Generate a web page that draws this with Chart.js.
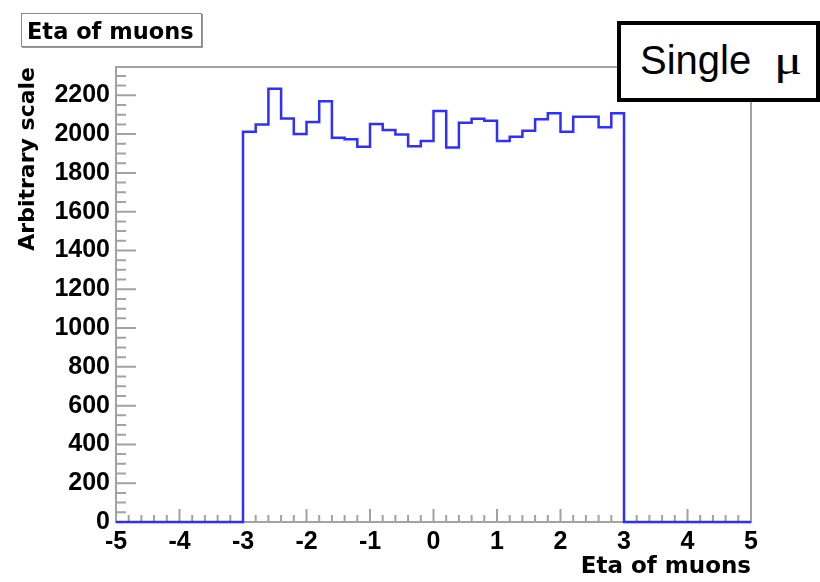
<!DOCTYPE html>
<html>
<head>
<meta charset="utf-8">
<script src="https://cdn.jsdelivr.net/npm/chart.js@4.4.1/dist/chart.umd.min.js"></script>
<style>
  body { margin: 0; background: #fff; }
  #wrap { position: relative; width: 820px; height: 582px; }
  #histTitle {
    position: absolute; left: 21px; top: 13px; width: 181px; height: 34px;
    box-sizing: border-box; border: 1px solid #8a8a8a; box-shadow: 1px 1px 0 #9a9a9a;
    background: #fff; font: bold 22.5px "DejaVu Sans", sans-serif; line-height: 31px;
    padding-left: 5px; white-space: nowrap;
  }
  #histTitle span { position: relative; top: 2px; }
  #tag {
    position: absolute; left: 617px; top: 21px; width: 203px; height: 81px;
    box-sizing: border-box; border: 4px solid #000; background: #fff;
  }
  #tagText {
    position: absolute; left: 640px; top: 40px; white-space: nowrap;
    font: 40px "Liberation Sans", Arial, sans-serif; line-height: 40px; color: #000;
  }
  #tagText span {
    display: inline-block; font-family: "Liberation Serif", serif; font-size: 42px;
    margin-left: 23px; transform: scaleX(1.25); transform-origin: left bottom;
  }
</style>
</head>
<body>
<div id="wrap">
  <canvas id="etaChart" width="820" height="582"></canvas>
  <div id="histTitle"><span>Eta of muons</span></div>
  <div id="tag"></div>
  <div id="tagText">Single<span>μ</span></div>
</div>
<script>
// bins of 0.2 in eta, only -3..3 filled
const binLowEdges = [-3.0, -2.8, -2.6, -2.4, -2.2, -2.0, -1.8, -1.6, -1.4, -1.2,
                     -1.0, -0.8, -0.6, -0.4, -0.2, 0.0, 0.2, 0.4, 0.6, 0.8,
                     1.0, 1.2, 1.4, 1.6, 1.8, 2.0, 2.2, 2.4, 2.6, 2.8];
const binCounts = [2012, 2050, 2234, 2081, 2000, 2063, 2170, 1981, 1973, 1935,
                   2052, 2021, 1998, 1938, 1964, 2119, 1931, 2058, 2079, 2069,
                   1965, 1986, 2017, 2077, 2107, 2012, 2089, 2089, 2035, 2107];
const fillEnd = 3.0;
const xRange = [-5, 5];
const yRange = [0, 2346];
const yTickStep = 200;
const xTickStep = 1;

const points = [{x: xRange[0], y: 0}];
binLowEdges.forEach((e, i) => points.push({x: e, y: binCounts[i]}));
points.push({x: fillEnd, y: 0});
points.push({x: xRange[1], y: 0});

const labelFont = {family: 'Liberation Sans', size: 25, weight: 'bold'};
const titleFont = {family: 'DejaVu Sans', size: 22, weight: 'bold'};
const frameColor = '#a2a2a2';

// ROOT style frame with ticks on the inside
const rootFrame = {
  id: 'rootFrame',
  beforeDatasetsDraw(chart) {
    const {ctx, chartArea: a, scales: {x, y}} = chart;
    ctx.save();
    ctx.strokeStyle = frameColor;
    ctx.lineWidth = 2;
    ctx.strokeRect(a.left, a.top, a.right - a.left, a.bottom - a.top);
    ctx.beginPath();
    for (let i = 0; i <= 50; i++) {
      const v = x.min + i * 0.2;
      const px = x.getPixelForValue(v);
      const len = i % 5 === 0 ? 13 : 7;
      ctx.moveTo(px, a.bottom);
      ctx.lineTo(px, a.bottom - len);
    }
    for (let v = 0; v <= y.max; v += 50) {
      const py = y.getPixelForValue(v);
      const len = v % 200 === 0 ? 20 : 10;
      ctx.moveTo(a.left, py);
      ctx.lineTo(a.left + len, py);
    }
    ctx.stroke();
    ctx.restore();
  }
};

new Chart(document.getElementById('etaChart'), {
  type: 'line',
  data: {
    datasets: [{
      label: 'Eta of muons',
      data: points,
      stepped: 'before',
      borderColor: '#2f2fff',
      borderWidth: 2.5,
      pointRadius: 0,
      fill: false,
      tension: 0,
      clip: false
    }]
  },
  options: {
    responsive: false,
    animation: false,
    layout: {padding: {top: 67, right: 69, left: 0, bottom: 0}},
    plugins: {legend: {display: false}, tooltip: {enabled: false}},
    scales: {
      x: {
        type: 'linear',
        min: xRange[0],
        max: xRange[1],
        afterFit(scale) { scale.height = 60; },
        grid: {display: false, drawTicks: false},
        border: {display: false},
        ticks: {
          stepSize: xTickStep,
          autoSkip: false,
          maxRotation: 0,
          padding: 5,
          color: '#000',
          font: labelFont,
          callback: v => String(v)
        },
        title: {
          display: true,
          text: 'Eta of muons',
          align: 'end',
          color: '#000',
          font: {family: 'DejaVu Sans', size: 23, weight: 'bold'},
          padding: {top: 0, bottom: 1}
        }
      },
      y: {
        min: yRange[0],
        max: yRange[1],
        afterFit(scale) { scale.width = 116; },
        grid: {display: false, drawTicks: false},
        border: {display: false},
        ticks: {
          stepSize: yTickStep,
          includeBounds: false,
          autoSkip: false,
          padding: 6,
          color: '#000',
          font: labelFont,
          callback: v => String(v)
        },
        title: {
          display: true,
          text: 'Arbitrary scale',
          align: 'end',
          color: '#000',
          font: titleFont,
          padding: {top: 15, bottom: 0}
        }
      }
    }
  },
  plugins: [rootFrame]
});
</script>
</body>
</html>
